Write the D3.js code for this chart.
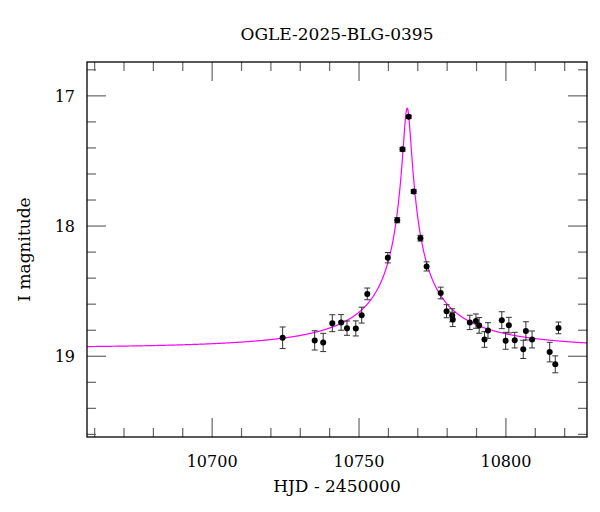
<!DOCTYPE html>
<html><head><meta charset="utf-8">
<script src="https://cdn.jsdelivr.net/npm/d3@7"></script>
<style>body{margin:0;background:#fff}text{font-family:"DejaVu Serif","Liberation Serif",serif}</style>
</head><body><svg id="c" width="600" height="512"></svg>
<script>
const hjd = [10724.0,10734.9,10737.8,10740.9,10743.9,10745.9,10748.9,10750.9,10752.8,10759.8,10763.0,10764.8,10766.9,10768.6,10770.9,10773.0,10777.8,10779.8,10781.7,10781.9,10787.7,10789.8,10790.9,10792.7,10793.9,10798.6,10799.9,10801.0,10803.0,10805.9,10806.8,10808.9,10814.9,10816.8,10817.9];
const mag = [18.858,18.878,18.894,18.746,18.740,18.784,18.786,18.684,18.521,18.243,17.955,17.411,17.161,17.735,18.093,18.310,18.514,18.654,18.685,18.717,18.740,18.730,18.763,18.871,18.802,18.723,18.881,18.761,18.876,18.947,18.805,18.871,18.968,19.062,18.782];
const err = [0.083,0.074,0.070,0.065,0.060,0.055,0.058,0.061,0.045,0.040,0.020,0.015,0.012,0.015,0.022,0.035,0.045,0.050,0.050,0.055,0.055,0.055,0.060,0.060,0.060,0.065,0.065,0.060,0.060,0.070,0.070,0.065,0.075,0.065,0.045];
const xTicks = [10700,10750,10800];
const yTicks = [17,18,19];
// point-lens model (fitted by eye)
const model = {t0:10766.4, tE:62, u0:0.022, fs:0.1, base:18.935};

const svg = d3.select("#c");
const L=87,R=587,T=62,B=437;
const x = d3.scaleLinear().domain([10657.4,10827.6]).range([L,R]);
const y = d3.scaleLinear().domain([16.74,19.62]).range([T,B]);

svg.append("defs").append("clipPath").attr("id","cp").append("rect").attr("x",L).attr("y",T).attr("width",R-L).attr("height",B-T);

function magAt(t){const u=Math.hypot(model.u0,(t-model.t0)/model.tE);const A=(u*u+2)/(u*Math.sqrt(u*u+4));return model.base-2.5*Math.log10(model.fs*A+1-model.fs);}
const ts=d3.range(10657.4,10827.7,0.05);
svg.append("path").attr("clip-path","url(#cp)").datum(ts).attr("fill","none").attr("stroke","#ff00ff").attr("stroke-width",1.2)
  .attr("d",d3.line().x(t=>x(t)).y(t=>y(magAt(t))));

// ticks
const g=svg.append("g").attr("stroke","#666").attr("stroke-width",1.2);
d3.range(10660,10828,10).forEach(v=>{const M=v%50===0;const l=M?19:9;
  g.append("line").attr("x1",x(v)).attr("x2",x(v)).attr("y1",B).attr("y2",B-l);
  g.append("line").attr("x1",x(v)).attr("x2",x(v)).attr("y1",T).attr("y2",T+l);});
d3.range(16.8,19.61,0.2).forEach(v=>{const M=Math.abs(v-Math.round(v))<1e-6;const l=M?19:9;
  g.append("line").attr("y1",y(v)).attr("y2",y(v)).attr("x1",L).attr("x2",L+l);
  g.append("line").attr("y1",y(v)).attr("y2",y(v)).attr("x1",R).attr("x2",R-l);});
svg.append("rect").attr("x",L).attr("y",T).attr("width",R-L).attr("height",B-T).attr("fill","none").attr("stroke","#000").attr("stroke-width",1.3);

svg.selectAll(".xl").data(xTicks).enter().append("text").attr("x",d=>x(d)).attr("y",B+30).attr("text-anchor","middle").attr("font-size",16).text(d=>d);
svg.selectAll(".yl").data(yTicks).enter().append("text").attr("x",L-12).attr("y",d=>y(d)+6).attr("text-anchor","end").attr("font-size",16).text(d=>d);

// data
const pts=svg.append("g");
hjd.forEach((t,i)=>{const cx=x(t),y1=y(mag[i]-err[i]),y2=y(mag[i]+err[i]);
  pts.append("line").attr("x1",cx).attr("x2",cx).attr("y1",y1).attr("y2",y2).attr("stroke","#333").attr("stroke-width",1);
  [y1,y2].forEach(yy=>pts.append("line").attr("x1",cx-3).attr("x2",cx+3).attr("y1",yy).attr("y2",yy).attr("stroke","#333").attr("stroke-width",1));
  pts.append("circle").attr("cx",cx).attr("cy",y(mag[i])).attr("r",3).attr("fill","#000");});

svg.append("text").attr("x",(L+R)/2).attr("y",40).attr("text-anchor","middle").attr("font-size",17).text("OGLE-2025-BLG-0395");
svg.append("text").attr("x",(L+R)/2).attr("y",492).attr("text-anchor","middle").attr("font-size",17).text("HJD - 2450000");
svg.append("text").attr("transform",`translate(30,${(T+B)/2}) rotate(-90)`).attr("text-anchor","middle").attr("font-size",17).text("I magnitude");
</script></body></html>
